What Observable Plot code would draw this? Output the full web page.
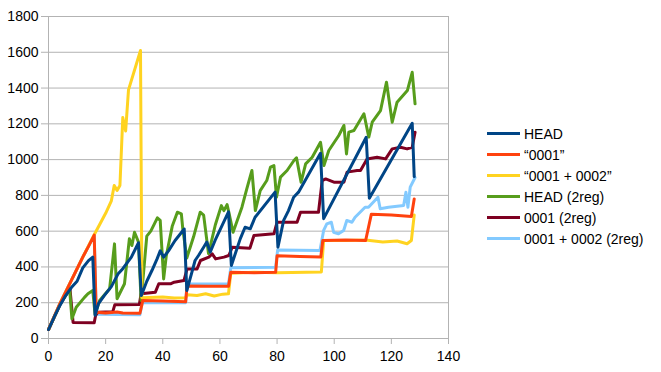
<!DOCTYPE html>
<html><head><meta charset="utf-8">
<script src="https://cdn.jsdelivr.net/npm/d3@7"></script>
<script src="https://cdn.jsdelivr.net/npm/@observablehq/plot@0.6"></script>
<style>
body{margin:0;background:#fff;font-family:"Liberation Sans",Arial,sans-serif;}
#wrap{position:relative;width:661px;height:372px;}
#legend{position:absolute;left:487px;top:123px;font-size:14px;color:#000;}
.row{height:21px;display:flex;align-items:center;white-space:nowrap;}
.sw{width:33px;height:3px;margin-right:4px;}
</style></head><body><div id="wrap"><div id="legend"></div></div>
<script>
const seriesNames = ["HEAD","“0001”","“0001 + 0002”","HEAD (2reg)","0001 (2reg)","0001 + 0002 (2reg)"];
const seriesColors = ["#004586","#ff420e","#ffd320","#579d1c","#7e0021","#83caff"];
const xTicks = [0,20,40,60,80,100,120,140];
const yTicks = [0,200,400,600,800,1000,1200,1400,1600,1800];

const head = [[0,50],[2,120],[4,185],[6,240],[8,285],[10,320],[12,395],[14,435],[15.5,455],[16.3,130],[17.5,195],[19.5,240],[22,290],[24.3,360],[26,390],[29,455],[31.5,535],[32.5,240],[34.4,320],[36.2,380],[38,445],[39.1,490],[40.3,455],[42,490],[44.3,548],[47.5,612],[48.4,268],[50.2,371],[51.3,436],[52.5,464],[54.3,510],[55.4,539],[56.6,483],[58.3,548],[63,708],[64,408],[67.1,557],[68.8,622],[70.6,613],[72.3,678],[79.3,818],[80.3,510],[82.3,660],[84,715],[85.8,790],[87.5,818],[95.2,1035],[96.3,670],[111.2,1125],[112.3,784],[127.3,1203],[128,905]];

const p0001 = [[0,50],[4,195],[8,325],[10,390],[12,455],[14,515],[16,578],[16.7,147],[20,142],[24,148],[26,142],[32,141],[33,212],[40,210],[48,205],[48.5,293],[56,292],[63,292],[63.8,371],[72,368],[79.5,370],[80,462],[88,458],[95.3,455],[96,548],[104,550],[111,548],[113,695],[120,690],[127,682],[128,780]];

const p0001_0002 = [[0,50],[4,195],[8,325],[12,455],[16,580],[20,700],[22,770],[23,855],[24,828],[25,855],[26,1235],[27,1160],[28,1390],[32.2,1610],[32.7,228],[40,232],[44,226],[48,228],[48.5,245],[52,240],[55,250],[58,238],[61,248],[63,250],[63.8,365],[72,370],[80,368],[95.5,372],[96.3,548],[104,548],[111,550],[117,540],[122,545],[125.5,530],[127,548],[128,690]];

const head2 = [[0,50],[4,190],[7.4,275],[8.2,110],[9.7,175],[12.6,230],[13.8,250],[15.5,268],[16.3,135],[17.9,212],[21.4,278],[23.1,529],[24,222],[26.6,306],[28.3,557],[29.2,520],[30.1,594],[31.5,539],[32.4,212],[34.4,572],[35.8,600],[38.1,674],[39.1,660],[40.3,333],[41.2,460],[43.3,627],[45.1,706],[46.5,697],[47,613],[48.4,450],[50.8,570],[53.1,706],[54.3,690],[56,475],[58.4,636],[60.5,743],[61.4,715],[62.5,748],[63.2,700],[64.6,594],[67.7,734],[69.4,837],[71.2,939],[72.4,715],[74.1,827],[76.4,883],[77.7,958],[78.9,967],[79.8,790],[81.2,902],[83.5,939],[85.9,995],[86.8,1010],[88.4,874],[90,976],[92.3,1013],[95.2,1097],[96.4,967],[98.1,1051],[101.6,1135],[103.4,1191],[104.3,1032],[105.1,1154],[106.9,1163],[110.4,1256],[112.1,1126],[113.3,1209],[116.2,1274],[118.3,1433],[120.3,1209],[122,1321],[125.6,1386],[127.3,1488],[128.3,1312]];

const r0001_2 = [[0,50],[4,190],[7.5,280],[8.6,90],[16,88],[16.5,130],[17.3,147],[22.5,150],[23.2,188],[31.8,190],[32.4,250],[37.4,259],[38.6,306],[42.7,306],[44,315],[47.4,324],[48.5,389],[52,389],[53.2,436],[56.1,455],[57.3,473],[58.5,445],[61.4,455],[63.1,464],[64.3,510],[70.5,505],[71.9,576],[78.9,585],[80,650],[87,650],[88.2,706],[94.5,706],[95.8,883],[97,892],[99.9,874],[103.4,874],[104.5,930],[108,939],[109.2,939],[111.5,1004],[115,1013],[118,1004],[120.3,1060],[123.2,1069],[125.5,1060],[127.3,1069],[128.3,1153]];

const r0001_0002_2 = [[0,50],[4,195],[8,325],[12,455],[16,575],[16.7,135],[32,133],[32.8,200],[48,200],[48.5,305],[63,305],[63.8,395],[79.5,398],[80.2,495],[95,492],[96.3,604],[97.4,641],[99,650],[99.8,594],[101.5,585],[103.3,604],[104.4,660],[106.2,650],[107.3,678],[110.8,734],[112,734],[115.3,790],[116.1,725],[119,734],[124.3,743],[125.1,818],[125.8,734],[126.6,846],[128.3,900]];

const seriesData = [head, p0001, p0001_0002, head2, r0001_2, r0001_0002_2];

// first series drawn on top: push in reverse order
const rows = [];
for (let i = seriesData.length - 1; i >= 0; i--) {
  seriesData[i].forEach(([x, y]) => rows.push({x, y, s: seriesNames[i]}));
}

const chart = Plot.plot({
  width: 661, height: 372,
  marginLeft: 48, marginRight: 213, marginTop: 16, marginBottom: 34,
  style: {fontFamily: "'Liberation Sans', Arial, sans-serif", fontSize: "14px", color: "#000", background: "#fff"},
  x: {domain: [0, 140]},
  y: {domain: [0, 1800]},
  color: {domain: seriesNames, range: seriesColors},
  marks: [
    Plot.gridY(yTicks, {stroke: "#b3b3b3", strokeOpacity: 1}),
    Plot.ruleX([140], {stroke: "#b3b3b3"}),
    Plot.ruleX([0], {stroke: "#b3b3b3"}),
    Plot.ruleY([0], {stroke: "#b3b3b3"}),
    Plot.axisY({ticks: yTicks, tickSize: 7, tickPadding: 3, tickFormat: d3.format("d"), stroke: "#b3b3b3", label: null}),
    Plot.axisX({ticks: xTicks, tickSize: 6, tickPadding: 7, tickFormat: d3.format("d"), stroke: "#b3b3b3", label: null}),
    Plot.line(rows, {x: "x", y: "y", z: "s", stroke: "s", strokeWidth: 3, strokeLinejoin: "round", strokeLinecap: "round"})
  ]
});
document.getElementById("wrap").prepend(chart);

const legend = document.getElementById("legend");
seriesNames.forEach((n, i) => {
  const r = document.createElement("div"); r.className = "row";
  const s = document.createElement("div"); s.className = "sw"; s.style.background = seriesColors[i];
  const t = document.createElement("span"); t.textContent = n;
  r.appendChild(s); r.appendChild(t); legend.appendChild(r);
});
</script></body></html>
